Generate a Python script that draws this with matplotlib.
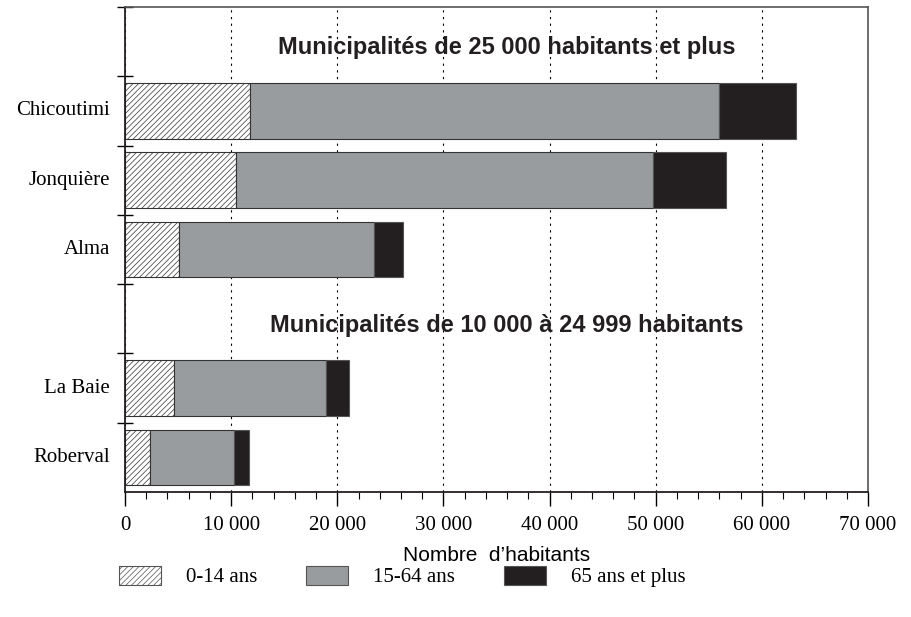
import matplotlib
matplotlib.use("Agg")
import matplotlib.pyplot as plt
from matplotlib.patches import Patch
import numpy as np

# slots from top to bottom; None = group title row
rows = [None, "Chicoutimi", "Jonquière", "Alma", None, "La Baie", "Roberval"]
titles = ["Municipalités de 25 000 habitants et plus",
          "Municipalités de 10 000 à 24 999 habitants"]
villes = ["Chicoutimi", "Jonquière", "Alma", "La Baie", "Roberval"]
age_0_14 = [11800, 10500, 5100, 4650, 2350]
age_15_64 = [44200, 39200, 18350, 14300, 7950]
age_65 = [7250, 6950, 2750, 2200, 1420]
groupes = ["0-14 ans", "15-64 ans", "65 ans et plus"]
xticks = np.arange(0, 70001, 10000)

serif = "Liberation Serif"
sans = "Liberation Sans"
gris = "#999c9e"
noir = "#231f20"

plt.rcParams["hatch.linewidth"] = 0.5
plt.rcParams["hatch.color"] = "#777777"

fig = plt.figure(figsize=(9.11, 6.17), dpi=100)
ax = fig.add_axes([0.1372, 0.2026, 0.9528 - 0.1372, 0.9887 - 0.2026])

n = len(rows)
ypos = {name: n - 1 - i + 0.5 for i, name in enumerate(rows) if name}
y = [ypos[v] for v in villes]

left = np.zeros(len(villes))
ax.barh(y, age_0_14, left=left, height=0.8, color="white", hatch="//////",
        edgecolor="#333333", linewidth=0.8, zorder=2)
left += age_0_14
ax.barh(y, age_15_64, left=left, height=0.8, color=gris,
        edgecolor="#333333", linewidth=0.8, zorder=2)
left += age_15_64
ax.barh(y, age_65, left=left, height=0.8, color=noir,
        edgecolor="#555555", linewidth=0.8, zorder=2)

ax.set_xlim(0, 70000)
ax.set_ylim(0, n)

ax.set_xticks(xticks)
ax.set_xticklabels(["0"] + [f"{v // 1000} 000" for v in xticks[1:]],
                   fontfamily=serif, fontsize=15)
ax.set_xticks(np.arange(0, 70001, 2000), minor=True)
ax.tick_params(axis="x", which="major", direction="out", length=10, width=1, pad=7)
ax.tick_params(axis="x", which="minor", direction="out", length=5, width=0.8)

ax.set_yticks(np.arange(1, n + 1))
ax.set_yticklabels([])
ax.tick_params(axis="y", which="major", direction="inout", length=12, width=1)
for v in villes:
    ax.text(-1400, ypos[v], v, ha="right", va="center",
            fontfamily=serif, fontsize=15)

ax.grid(axis="x", which="major", linestyle=(0, (2, 4)), color="black",
        linewidth=0.8, zorder=0)
ax.set_axisbelow(True)

title_rows = [i for i, name in enumerate(rows) if name is None]
for t, i in zip(titles, title_rows):
    ax.text(36000, n - 1 - i + 0.41, t, ha="center", va="center",
            fontfamily=sans, fontweight="bold", fontsize=17, color="#231f20")

for s in ["left", "bottom"]:
    ax.spines[s].set_linewidth(1.3)
    ax.spines[s].set_color("#231f20")
for s in ["top", "right"]:
    ax.spines[s].set_linewidth(1.2)
    ax.spines[s].set_color("#555555")

ax.set_xlabel("Nombre  d\u2019habitants", fontfamily=sans, fontsize=15, labelpad=8)

handles = [Patch(facecolor="white", hatch="//////", edgecolor="#555555", linewidth=0.8),
           Patch(facecolor=gris, edgecolor="#555555", linewidth=0.8),
           Patch(facecolor=noir, edgecolor="#555555", linewidth=0.8)]
fig.legend(handles, groupes, loc="center left", bbox_to_anchor=(0.1196, 0.0655),
           ncol=3, frameon=False, prop={"family": serif, "size": 15},
           borderpad=0, handlelength=2.0, handleheight=1.0, handletextpad=1.2,
           columnspacing=2.35)

fig.savefig("out.png", dpi=100)
